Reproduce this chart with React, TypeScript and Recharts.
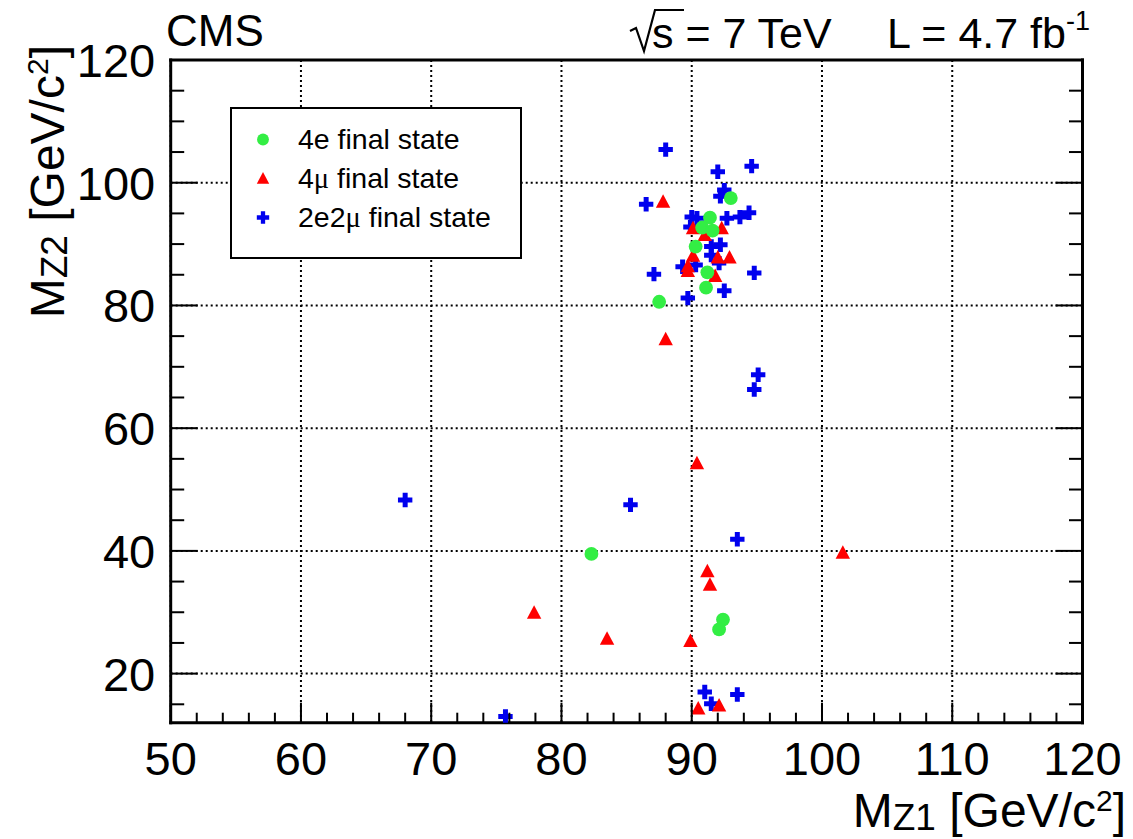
import React from 'react'
import { ScatterChart, Scatter, XAxis, YAxis, CartesianGrid, Legend } from 'recharts'

const W = 1133
const H = 839
const FONT = '"Liberation Sans", Arial, Helvetica, sans-serif'

// candidates: [M_Z1, M_Z2] in GeV/c^2
const fourE: [number, number][] = [
  [87.5, 80.6], [82.3, 39.5], [92.4, 28.8], [92.1, 27.2], [93.0, 97.5], [91.4, 94.3],
  [90.8, 92.7], [91.6, 92.2], [90.3, 89.6], [91.2, 85.4], [91.1, 82.9],
]
const fourMu: [number, number][] = [
  [87.8, 96.9], [90.1, 92.6], [92.3, 92.6], [91.0, 91.5], [90.1, 88.1], [92.0, 87.8],
  [92.9, 87.8], [89.7, 86.4], [89.7, 85.6], [91.8, 84.8], [88.0, 74.5], [90.4, 54.3],
  [101.6, 39.7], [91.2, 36.7], [91.4, 34.5], [77.9, 29.9], [83.5, 25.7], [89.9, 25.3],
  [90.5, 14.3], [92.1, 14.8],
]
const twoETwoMu: [number, number][] = [
  [88.0, 105.4], [92.0, 101.8], [94.6, 102.7], [92.5, 98.8], [92.2, 97.8], [86.5, 96.5],
  [90.0, 94.4], [90.4, 94.2], [92.7, 94.2], [93.7, 94.4], [94.4, 95.1], [89.9, 92.8],
  [91.5, 89.6], [92.2, 89.9], [91.5, 88.2], [92.1, 86.9], [90.3, 86.6], [89.3, 86.3],
  [87.1, 85.1], [94.8, 85.3], [92.5, 82.4], [89.7, 81.2], [95.1, 68.7], [94.8, 66.3],
  [68.0, 48.3], [85.3, 47.5], [93.5, 41.9], [91.0, 17.0], [91.5, 15.1], [93.5, 16.6],
  [75.7, 13.0],
]

const seriesNames = ['4e final state', '4μ final state', '2e2μ final state']

const xDomain: [number, number] = [50, 120]
const yDomain: [number, number] = [12, 120]
const xMajor = [50, 60, 70, 80, 90, 100, 110, 120]
const yMajor = [20, 40, 60, 80, 100, 120]
const xTicks = Array.from({ length: 36 }, (_, i) => 50 + 2 * i)
const yTicks = Array.from({ length: 22 }, (_, i) => 15 + 5 * i)

const GREEN = '#33ee44'
const RED = '#ff0000'
const BLUE = '#0000ee'

const toPoints = (arr: [number, number][]) => arr.map(([x, y]) => ({ x, y }))

function marker(kind: string, cx: number, cy: number, s: number) {
  if (kind === 'circle') return <circle cx={cx} cy={cy} r={6.9 * s} fill={GREEN} />
  if (kind === 'triangle') {
    const pts = `${cx},${cy - 7.5 * s} ${cx - 7.2 * s},${cy + 6 * s} ${cx + 7.2 * s},${cy + 6 * s}`
    return <polygon points={pts} fill={RED} />
  }
  const a = 7.2 * s
  const b = 2.5 * s
  const d = `M${cx - b},${cy - a}H${cx + b}V${cy - b}H${cx + a}V${cy + b}H${cx + b}V${cy + a}H${cx - b}V${cy + b}H${cx - a}V${cy - b}H${cx - b}Z`
  return <path d={d} fill={BLUE} />
}

const kindOf: Record<string, string> = {
  '4e final state': 'circle',
  '4μ final state': 'triangle',
  '2e2μ final state': 'cross',
}

// greek mu is set in a serif face, like ROOT's symbol font
function withMu(label: string) {
  const parts = label.split('μ')
  return parts.map((p, i) => (
    <React.Fragment key={i}>
      {i > 0 && <tspan fontFamily='"Liberation Serif", serif'>μ</tspan>}
      {p}
    </React.Fragment>
  ))
}

const tickText = { fontSize: 47, fill: '#000', fontFamily: FONT }

const BottomTick = (p: any) => {
  const v = p.payload.value
  const major = v % 10 === 0
  return (
    <g>
      <line x1={p.x} y1={p.y} x2={p.x} y2={p.y - (major ? 20 : 10)} stroke="#000" strokeWidth={2} />
      {major && <text x={p.x} y={p.y + 52} textAnchor="middle" {...tickText}>{v}</text>}
    </g>
  )
}
const TopTick = (p: any) => {
  const major = p.payload.value % 10 === 0
  return <line x1={p.x} y1={p.y} x2={p.x} y2={p.y + (major ? 20 : 10)} stroke="#000" strokeWidth={2} />
}
const LeftTick = (p: any) => {
  const v = p.payload.value
  const major = v % 20 === 0
  return (
    <g>
      <line x1={p.x} y1={p.y} x2={p.x + (major ? 27 : 13.5)} y2={p.y} stroke="#000" strokeWidth={2} />
      {major && <text x={p.x - 15.5} y={p.y + 17} textAnchor="end" {...tickText}>{v}</text>}
    </g>
  )
}
const RightTick = (p: any) => {
  const major = p.payload.value % 20 === 0
  return <line x1={p.x} y1={p.y} x2={p.x - (major ? 27 : 13.5)} y2={p.y} stroke="#000" strokeWidth={2} />
}

const LegendBox = (props: any) => {
  const payload: any[] = props.payload || []
  return (
    <svg width={292} height={152} style={{ display: 'block' }}>
      <rect x={1} y={1} width={290} height={150} fill="#fff" stroke="#000" strokeWidth={2} />
      {seriesNames.map((name, i) => {
        const entry = payload.find((e) => e.value === name)
        const base = 42 + i * 39
        return (
          <g key={name}>
            {marker(kindOf[name], 33, base - 9.5, 0.86)}
            <text x={68} y={base} fontSize={28.5} fontFamily={FONT} fill="#000">
              {withMu(entry ? entry.value : name)}
            </text>
          </g>
        )
      })}
    </svg>
  )
}

const frame = { stroke: '#000', strokeWidth: 3, strokeLinecap: 'square' as const }

export default function App() {
  return (
    <div style={{ position: 'absolute', left: 0, top: 0, width: W, height: H, background: '#fff' }}>
      <ScatterChart width={W} height={H} margin={{ top: 60, right: 50.5, bottom: 0, left: 0 }}>
        <CartesianGrid
          stroke="#000"
          strokeWidth={2}
          strokeDasharray="2 3"
          verticalCoordinatesGenerator={({ xAxis, offset }: any) =>
            xMajor.map((v) =>
              typeof xAxis?.scale === 'function'
                ? xAxis.scale(v)
                : offset.left + ((v - xDomain[0]) / (xDomain[1] - xDomain[0])) * offset.width
            )
          }
          horizontalCoordinatesGenerator={({ yAxis, offset }: any) =>
            yMajor.map((v) =>
              typeof yAxis?.scale === 'function'
                ? yAxis.scale(v)
                : offset.top + ((yDomain[1] - v) / (yDomain[1] - yDomain[0])) * offset.height
            )
          }
        />
        <XAxis
          xAxisId={0}
          dataKey="x"
          type="number"
          domain={xDomain}
          allowDataOverflow
          ticks={xTicks}
          interval={0}
          height={116.3}
          tickSize={0}
          tickMargin={0}
          tickLine={false}
          axisLine={frame}
          tick={BottomTick}
        />
        <XAxis
          xAxisId="top"
          orientation="top"
          mirror
          type="number"
          domain={xDomain}
          allowDataOverflow
          ticks={xTicks}
          interval={0}
          height={1}
          tickSize={0}
          tickMargin={0}
          tickLine={false}
          axisLine={frame}
          tick={TopTick}
        />
        <YAxis
          yAxisId={0}
          dataKey="y"
          type="number"
          domain={yDomain}
          allowDataOverflow
          ticks={yTicks}
          interval={0}
          width={170.7}
          tickSize={0}
          tickMargin={0}
          tickLine={false}
          axisLine={frame}
          tick={LeftTick}
        />
        <YAxis
          yAxisId="right"
          orientation="right"
          mirror
          type="number"
          domain={yDomain}
          allowDataOverflow
          ticks={yTicks}
          interval={0}
          width={1}
          tickSize={0}
          tickMargin={0}
          tickLine={false}
          axisLine={frame}
          tick={RightTick}
        />
        <Legend
          layout="vertical"
          align="center"
          verticalAlign="middle"
          wrapperStyle={{ left: 230, top: 107, width: 292, height: 152, margin: 0, padding: 0 }}
          content={LegendBox}
        />
        <Scatter
          name={seriesNames[2]}
          data={toPoints(twoETwoMu)}
          fill={BLUE}
          isAnimationActive={false}
          shape={(p: any) => marker('cross', p.cx, p.cy, 1)}
        />
        <Scatter
          name={seriesNames[1]}
          data={toPoints(fourMu)}
          fill={RED}
          isAnimationActive={false}
          shape={(p: any) => marker('triangle', p.cx, p.cy, 1)}
        />
        <Scatter
          name={seriesNames[0]}
          data={toPoints(fourE)}
          fill={GREEN}
          isAnimationActive={false}
          shape={(p: any) => marker('circle', p.cx, p.cy, 1)}
        />
      </ScatterChart>
      <svg
        width={W}
        height={H}
        fontFamily={FONT}
        style={{ position: 'absolute', left: 0, top: 0, pointerEvents: 'none' }}
      >
        <text x={166} y={46} fontSize={44} fill="#000">CMS</text>
        <path d="M630,31 L636,28 L644,51 L655,10 L684,10" fill="none" stroke="#000" strokeWidth={2.2} />
        <text x={652} y={48} fontSize={43} fill="#000">s = 7 TeV</text>
        <text x={1090} y={48} fontSize={43} textAnchor="end" fill="#000">
          L = 4.7 fb<tspan fontSize={27} dy={-18}>-1</tspan>
        </text>
        <text x={1126} y={827} fontSize={48} textAnchor="end" fill="#000">
          M<tspan fontSize={37} dy={3}>Z1</tspan>
          <tspan dy={-3}> [GeV/c</tspan>
          <tspan fontSize={30} dy={-16}>2</tspan>
          <tspan dy={16}>]</tspan>
        </text>
        <text x={64} y={45} fontSize={48} textAnchor="end" fill="#000" transform="rotate(-90 64 45)">
          M<tspan fontSize={37} dy={3}>Z2</tspan>
          <tspan dy={-3}> [GeV/c</tspan>
          <tspan fontSize={30} dy={-16}>2</tspan>
          <tspan dy={16}>]</tspan>
        </text>
      </svg>
    </div>
  )
}
